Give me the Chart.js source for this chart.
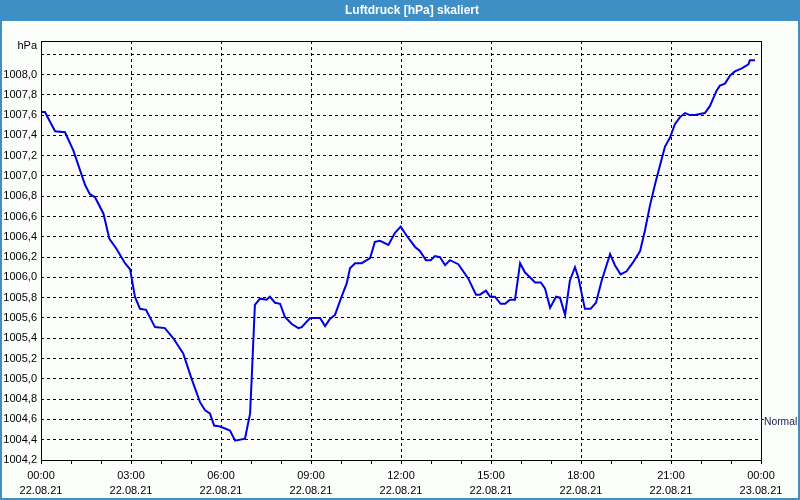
<!DOCTYPE html>
<html>
<head>
<meta charset="utf-8">
<script src="https://cdn.jsdelivr.net/npm/chart.js@4/dist/chart.umd.min.js"></script>
<style>
html,body{margin:0;padding:0;background:#fcfefc;}
canvas{display:block;}
</style>
</head>
<body>
<canvas id="c" width="800" height="500"></canvas>
<script>
// ---- data ----
const chartTitle = "Luftdruck [hPa] skaliert";
const unitLabel = "hPa";
const refLabel = "Normal";
const refValue = 1004.6;
const hours = [
  0.00,0.13,0.47,0.80,1.08,1.47,1.63,1.80,2.08,2.28,2.52,2.80,2.97,3.13,3.30,3.50,3.80,4.13,4.41,4.74,
  5.02,5.30,5.47,5.63,5.77,5.97,6.30,6.47,6.80,6.97,7.03,7.13,7.30,7.52,7.63,7.80,7.97,8.13,8.36,8.58,
  8.69,8.97,9.30,9.47,9.63,9.80,10.02,10.19,10.30,10.47,10.69,10.97,11.13,11.30,11.58,11.80,11.99,12.19,12.47,12.63,
  12.83,12.99,13.13,13.30,13.47,13.63,13.91,14.24,14.50,14.63,14.83,14.97,15.13,15.32,15.47,15.63,15.80,15.97,16.13,16.47,
  16.66,16.80,16.97,17.17,17.30,17.47,17.63,17.80,17.91,18.13,18.32,18.50,18.69,18.97,19.13,19.32,19.52,19.74,19.97,20.13,
  20.30,20.47,20.63,20.80,20.97,21.13,21.30,21.47,21.63,21.80,22.13,22.30,22.52,22.63,22.80,22.97,23.13,23.36,23.58,23.63,23.80
];
const pressure = [
  1007.63,1007.63,1007.44,1007.43,1007.25,1006.91,1006.82,1006.79,1006.63,1006.38,1006.28,1006.14,1006.08,1005.81,1005.69,1005.68,1005.51,1005.50,1005.40,1005.25,
  1005.00,1004.77,1004.69,1004.66,1004.54,1004.53,1004.49,1004.39,1004.41,1004.66,1005.05,1005.73,1005.79,1005.78,1005.81,1005.75,1005.74,1005.61,1005.54,1005.50,
  1005.51,1005.60,1005.60,1005.52,1005.59,1005.63,1005.81,1005.94,1006.09,1006.14,1006.14,1006.19,1006.35,1006.36,1006.32,1006.44,1006.50,1006.41,1006.30,1006.26,
  1006.17,1006.17,1006.21,1006.20,1006.12,1006.17,1006.13,1005.99,1005.83,1005.83,1005.87,1005.81,1005.81,1005.74,1005.74,1005.78,1005.78,1006.14,1006.05,1005.95,
  1005.95,1005.89,1005.70,1005.81,1005.80,1005.63,1005.97,1006.10,1006.00,1005.69,1005.69,1005.75,1005.97,1006.23,1006.12,1006.03,1006.06,1006.15,1006.26,1006.46,
  1006.71,1006.92,1007.10,1007.29,1007.38,1007.51,1007.58,1007.62,1007.60,1007.60,1007.62,1007.69,1007.84,1007.89,1007.91,1007.99,1008.03,1008.06,1008.10,1008.14,1008.14
];
const yMin = 1004.2, yMax = 1008.33;
const yTicks = [1004.2,1004.4,1004.6,1004.8,1005.0,1005.2,1005.4,1005.6,1005.8,1006.0,1006.2,1006.4,1006.6,1006.8,1007.0,1007.2,1007.4,1007.6,1007.8,1008.0,1008.2];
const yLabelMax = 1008.0;
const xTimeLabels = ["00:00","03:00","06:00","09:00","12:00","15:00","18:00","21:00","00:00"];
const xDateLabels = ["22.08.21","22.08.21","22.08.21","22.08.21","22.08.21","22.08.21","22.08.21","22.08.21","23.08.21"];

const FONT = "'Liberation Sans', Arial, sans-serif";
const BLUE = '#3d8fc6';

const decor = {
  id: 'decor',
  beforeDraw(chart) {
    const ctx = chart.ctx;
    ctx.save();
    ctx.fillStyle = '#fcfefc';
    ctx.fillRect(0, 0, 800, 500);
    ctx.fillStyle = BLUE;
    ctx.fillRect(0, 0, 800, 21);
    ctx.fillStyle = '#ffffff';
    ctx.font = "bold 12px " + FONT;
    ctx.textAlign = 'center';
    ctx.textBaseline = 'middle';
    ctx.fillText(chartTitle, 412, 11);
    ctx.restore();
  },
  afterDraw(chart) {
    const ctx = chart.ctx;
    const a = chart.chartArea;
    const y = chart.scales.y;
    ctx.save();
    ctx.strokeStyle = '#000';
    ctx.lineWidth = 1;
    ctx.setLineDash([]);
    ctx.strokeRect(Math.round(a.left) + 0.5, Math.round(a.top) + 0.5, Math.round(a.right - a.left), Math.round(a.bottom - a.top));
    // outer border
    ctx.strokeStyle = BLUE;
    ctx.lineWidth = 2;
    ctx.strokeRect(1, 1, 798, 498);
    // unit label
    ctx.fillStyle = '#000';
    ctx.font = "11px " + FONT;
    ctx.textAlign = 'right';
    ctx.textBaseline = 'middle';
    ctx.fillText(unitLabel, 37, 46);
    // reference label
    const ry = Math.round(y.getPixelForValue(refValue)) + 0.5;
    ctx.lineWidth = 1;
    ctx.beginPath();
    ctx.moveTo(a.right, ry);
    ctx.lineTo(a.right + 3, ry);
    ctx.strokeStyle = '#202050';
    ctx.stroke();
    ctx.fillStyle = '#202050';
    ctx.font = "10.3px " + FONT;
    ctx.textAlign = 'left';
    ctx.fillText(refLabel, a.right + 3, ry + 3);
    ctx.restore();
  }
};

new Chart(document.getElementById('c'), {
  type: 'line',
  data: {
    datasets: [{
      data: hours.map((h, i) => ({x: h, y: pressure[i]})),
      borderColor: '#0000e0',
      borderWidth: 2,
      pointRadius: 0,
      tension: 0,
      fill: false
    }]
  },
  options: {
    responsive: false,
    animation: false,
    devicePixelRatio: 1,
    layout: {padding: {top: 41, left: 0, right: 39, bottom: 0}},
    plugins: {legend: {display: false}, title: {display: false}, tooltip: {enabled: false}},
    scales: {
      x: {
        type: 'linear',
        min: 0, max: 24,
        afterFit(s) { s.height = 40; },
        afterBuildTicks(s) { s.ticks = Array.from({length: 25}, (_, i) => ({value: i})); },
        ticks: {
          autoSkip: false, maxRotation: 0, minRotation: 0,
          padding: 4,
          color: '#000',
          font: {family: FONT, size: 11, lineHeight: 15/11},
          callback(v) {
            if (v % 3 !== 0) return '';
            const k = v / 3;
            return [xTimeLabels[k], xDateLabels[k]];
          }
        },
        grid: {
          color: c => (c.tick && c.tick.value % 3 === 0 && c.tick.value > 0 && c.tick.value < 24) ? '#000' : 'rgba(0,0,0,0)',
          tickColor: '#000',
          tickLength: 4,
          tickBorderDash: [],
          lineWidth: 1,
          drawTicks: true
        },
        border: {display: false, dash: [3, 3]}
      },
      y: {
        type: 'linear',
        min: yMin, max: yMax,
        afterFit(s) { s.width = 41; },
        afterBuildTicks(s) { s.ticks = yTicks.map(v => ({value: v})); },
        ticks: {
          padding: 4,
          color: '#000',
          font: {family: FONT, size: 11},
          callback(v) { return v > yLabelMax + 1e-6 ? '' : v.toFixed(1).replace('.', ','); }
        },
        grid: {
          color: c => (c.tick && c.tick.value > yMin + 1e-6) ? '#000' : 'rgba(0,0,0,0)',
          drawTicks: false,
          lineWidth: 1
        },
        border: {display: false, dash: [3, 3]}
      }
    }
  },
  plugins: [decor]
});
</script>
</body>
</html>
